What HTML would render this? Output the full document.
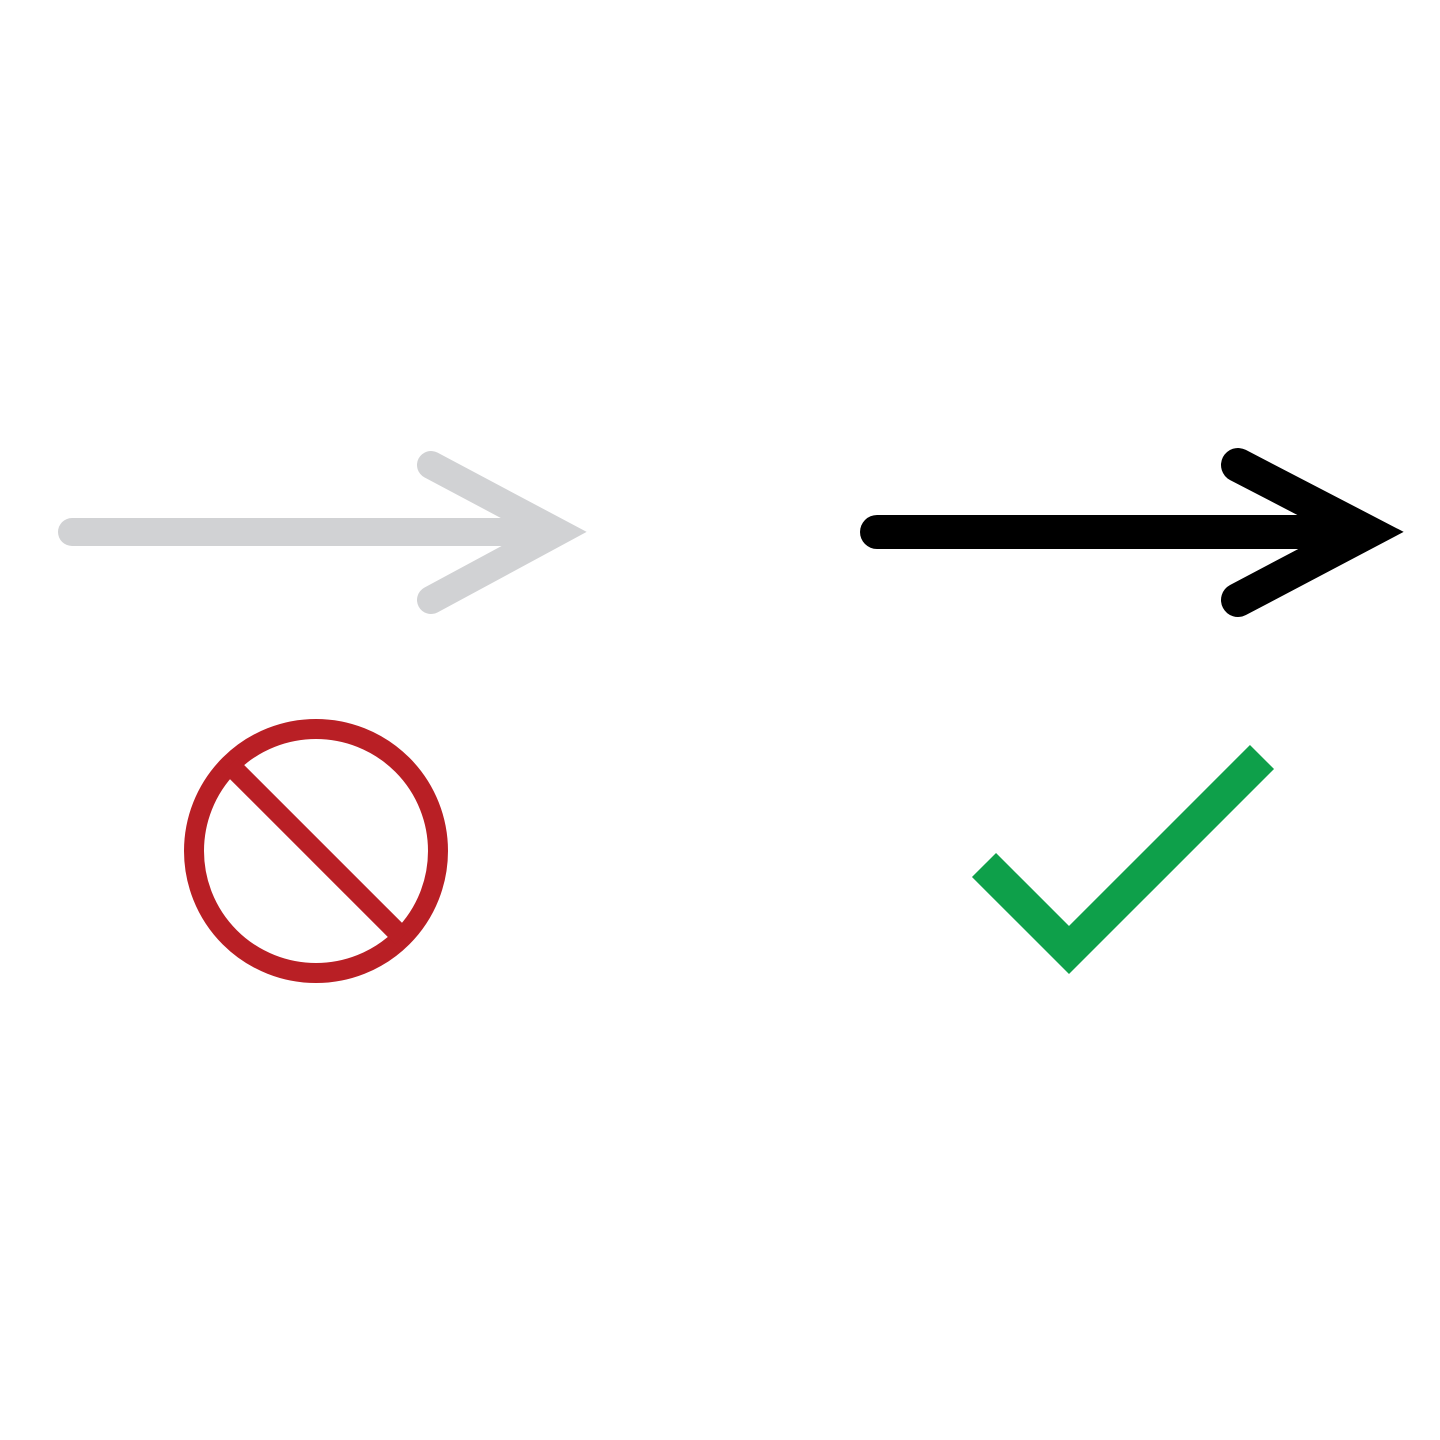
<!DOCTYPE html>
<html><head><meta charset="utf-8"><style>html,body{margin:0;padding:0;background:#fff}svg{display:block}</style></head>
<body>
<svg width="1440" height="1440" viewBox="0 0 1440 1440">
<g>
<line x1="72" y1="532" x2="540" y2="532" stroke="#d1d2d4" stroke-width="28" stroke-linecap="round"/>
<line x1="100" y1="532" x2="555" y2="532" stroke="#d1d2d4" stroke-width="28" stroke-linecap="butt"/>
<polyline points="431,465 557,532 431,600" fill="none" stroke="#d1d2d4" stroke-width="28" stroke-linecap="round" stroke-linejoin="miter" stroke-miterlimit="10"/>
</g>
<g>
<line x1="877" y1="532" x2="1340" y2="532" stroke="#000" stroke-width="34" stroke-linecap="round"/>
<line x1="900" y1="532" x2="1362" y2="532" stroke="#000" stroke-width="34" stroke-linecap="butt"/>
<polyline points="1238,465 1367,532 1238,600" fill="none" stroke="#000" stroke-width="34" stroke-linecap="round" stroke-linejoin="miter" stroke-miterlimit="10"/>
</g>
<g>
<circle cx="316" cy="851" r="122" fill="none" stroke="#b91f25" stroke-width="20"/>
<line x1="230" y1="765" x2="402" y2="937" stroke="#b91f25" stroke-width="20"/>
</g>
<g>
<polyline points="984,865 1069,950 1262,757" fill="none" stroke="#0ea04a" stroke-width="34" stroke-linejoin="miter" stroke-miterlimit="10"/>
</g>
</svg>
</body></html>
